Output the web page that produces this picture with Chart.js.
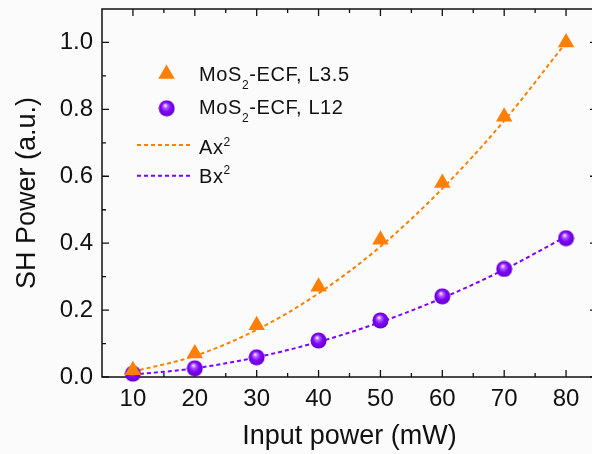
<!DOCTYPE html>
<html><head><meta charset="utf-8">
<script src="https://cdn.jsdelivr.net/npm/chart.js@4"></script>
<style>
html,body{margin:0;padding:0;background:#fbfbfb;overflow:hidden;width:592px;height:454px;}
#wrap{position:absolute;left:0;top:0;width:592px;height:454px;overflow:hidden;}
#c{position:absolute;left:0;top:0;}
.lg{position:absolute;font-family:"Liberation Sans",Arial,sans-serif;font-size:20px;line-height:20px;letter-spacing:0.6px;color:#111;white-space:nowrap;}
.sb{font-size:12px;position:relative;top:8px;}
.sp{font-size:12px;position:relative;top:-8.4px;}
</style></head><body>
<div id="wrap">
<canvas id="c" width="600" height="454"></canvas>
<div class="lg" style="left:199px;top:63.8px">MoS<span class="sb">2</span>-ECF, L3.5</div>
<div class="lg" style="left:199px;top:97.1px">MoS<span class="sb">2</span>-ECF, L12</div>
<div class="lg" style="left:199px;top:137.1px">Ax<span class="sp">2</span></div>
<div class="lg" style="left:199px;top:165.8px">Bx<span class="sp">2</span></div>
</div>
<script>
// ---- data ----
const xValues = [10, 20, 30, 40, 50, 60, 70, 80];
const seriesL35 = [0.02, 0.07, 0.155, 0.27, 0.41, 0.58, 0.778, 1.0];
const seriesL12 = [0.01, 0.026, 0.059, 0.109, 0.169, 0.241, 0.323, 0.415];
const fitA = [0.016, 0.063, 0.141, 0.25, 0.39, 0.563, 0.766, 1.0];
const fitB = [0.007, 0.026, 0.059, 0.105, 0.164, 0.236, 0.321, 0.42];
const xTicks = [10, 20, 30, 40, 50, 60, 70, 80];
const xMinorTicks = [15, 25, 35, 45, 55, 65, 75];
const yTicks = [0, 0.2, 0.4, 0.6, 0.8, 1.0];
const yMinorTicks = [0.1, 0.3, 0.5, 0.7, 0.9];
const xTitle = 'Input power (mW)';
const yTitle = 'SH Power (a.u.)';

const ORANGE = '#ff8000';
const PURPLE = '#7f00ff';
const FONT = '"Liberation Sans", Arial, sans-serif';

function pts(ys){ return xValues.map((x,i)=>({x:x, y:ys[i]})); }

// sphere sprite
const sphere = document.createElement('canvas');
sphere.width = 17; sphere.height = 17;
(function(){
  const g = sphere.getContext('2d');
  const grad = g.createRadialGradient(7, 5.5, 0.5, 8.5, 8.5, 8.5);
  grad.addColorStop(0, '#f4dcff');
  grad.addColorStop(0.22, '#b060ff');
  grad.addColorStop(0.55, '#8000ff');
  grad.addColorStop(1, '#5e00c0');
  g.fillStyle = grad;
  g.beginPath(); g.arc(8.5, 8.5, 8, 0, Math.PI*2); g.fill();
})();

function drawTriangle(ctx, x, y, r, color){
  ctx.save();
  ctx.fillStyle = color;
  ctx.beginPath();
  let a = 0;
  ctx.moveTo(x + Math.sin(a)*r, y - Math.cos(a)*r);
  a += 2*Math.PI/3;
  ctx.lineTo(x + Math.sin(a)*r, y - Math.cos(a)*r);
  a += 2*Math.PI/3;
  ctx.lineTo(x + Math.sin(a)*r, y - Math.cos(a)*r);
  ctx.closePath(); ctx.fill();
  ctx.restore();
}

const framePlugin = {
  id: 'frame',
  beforeDatasetsDraw(chart){
    const {ctx, chartArea:a, scales} = chart;
    const xs = scales.x, ys = scales.y;
    ctx.save();
    ctx.strokeStyle = '#111';
    ctx.lineWidth = 1.5;
    ctx.strokeRect(a.left, a.top, a.right - a.left, a.bottom - a.top);
    ctx.lineWidth = 1.3;
    ctx.beginPath();
    const tx = (v, len) => { const p = xs.getPixelForValue(v);
      ctx.moveTo(p, a.bottom); ctx.lineTo(p, a.bottom - len);
      ctx.moveTo(p, a.top); ctx.lineTo(p, a.top + len); };
    const ty = (v, len) => { const p = ys.getPixelForValue(v);
      ctx.moveTo(a.left, p); ctx.lineTo(a.left + len, p);
      ctx.moveTo(a.right, p); ctx.lineTo(a.right - len, p); };
    xTicks.forEach(v => tx(v, 7));
    xMinorTicks.forEach(v => tx(v, 4));
    yTicks.forEach(v => ty(v, 7));
    yMinorTicks.forEach(v => ty(v, 4));
    ctx.stroke();
    ctx.restore();
  },
  afterDraw(chart){
    const ctx = chart.ctx;
    ctx.save();
    drawTriangle(ctx, 166.5, 74, 9.5, ORANGE);
    ctx.drawImage(sphere, 166.7 - 8.5, 108.3 - 8.5);
    ctx.lineWidth = 2;
    ctx.setLineDash([4, 3]);
    ctx.strokeStyle = ORANGE;
    ctx.beginPath(); ctx.moveTo(137, 145); ctx.lineTo(192, 145); ctx.stroke();
    ctx.strokeStyle = PURPLE;
    ctx.beginPath(); ctx.moveTo(137, 175.7); ctx.lineTo(192, 175.7); ctx.stroke();
    ctx.restore();
  }
};

new Chart(document.getElementById('c'), {
  type: 'line',
  data: {
    datasets: [
      { label: 'MoS2-ECF, L3.5', data: pts(seriesL35), showLine: false,
        pointStyle: 'triangle', pointRadius: 9.5, pointBackgroundColor: ORANGE,
        pointBorderColor: ORANGE, pointBorderWidth: 0, order: 0, clip: false },
      { label: 'MoS2-ECF, L12', data: pts(seriesL12), showLine: false,
        pointStyle: sphere, pointRadius: 8, order: 0, clip: false },
      { label: 'Ax2', data: pts(fitA), borderColor: ORANGE, borderWidth: 2,
        borderDash: [4, 3], pointRadius: 0, cubicInterpolationMode: 'monotone', fill: false, order: 1 },
      { label: 'Bx2', data: pts(fitB), borderColor: PURPLE, borderWidth: 2,
        borderDash: [4, 3], pointRadius: 0, cubicInterpolationMode: 'monotone', fill: false, order: 1 }
    ]
  },
  options: {
    responsive: false,
    devicePixelRatio: 1,
    animation: false,
    events: [],
    layout: { autoPadding: false, padding: { top: 9, right: 3, left: 0, bottom: 0 } },
    plugins: { legend: { display: false }, tooltip: { enabled: false } },
    scales: {
      x: {
        type: 'linear', min: 5, max: 85,
        afterBuildTicks: s => { s.ticks = xTicks.map(v => ({ value: v })); },
        afterFit: s => { s.height = 77; s.paddingLeft = 0; s.paddingRight = 0; },
        grid: { display: false, drawTicks: false },
        border: { display: false },
        ticks: { autoSkip: false, maxRotation: 0, padding: 8, color: '#111',
          font: { family: FONT, size: 24 }, callback: v => String(v) },
        title: { display: true, text: xTitle, color: '#111',
          font: { family: FONT, size: 27 }, padding: { top: 0, bottom: 1 } }
      },
      y: {
        type: 'linear', min: 0, max: 1.1,
        afterBuildTicks: s => { s.ticks = yTicks.map(v => ({ value: v })); },
        afterFit: s => { s.width = 102; s.paddingTop = 0; s.paddingBottom = 0; },
        grid: { display: false, drawTicks: false },
        border: { display: false },
        ticks: { autoSkip: false, padding: 9, color: '#111',
          font: { family: FONT, size: 24 }, callback: v => Number(v).toFixed(1) },
        title: { display: true, text: yTitle, color: '#111',
          font: { family: FONT, size: 27 }, padding: { top: 11, bottom: 0 } }
      }
    }
  },
  plugins: [framePlugin]
});
</script>
</body></html>
